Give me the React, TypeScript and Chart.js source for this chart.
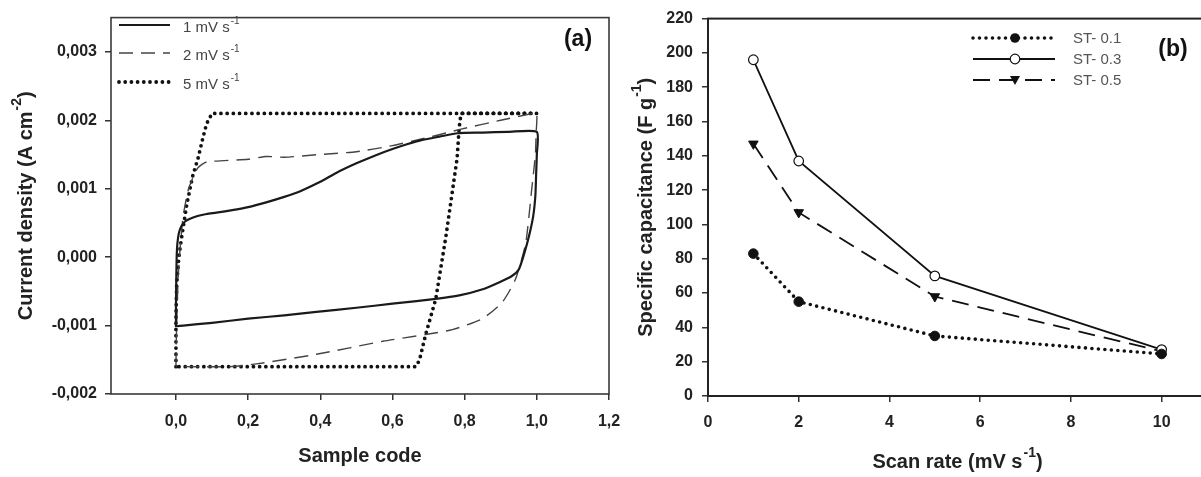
import React, { useEffect, useRef } from "react";
import { Chart, registerables } from "chart.js";

Chart.register(...registerables);

const FONT = "'Liberation Sans', Arial, Helvetica, sans-serif";

// ---------- Panel (a): cyclic voltammograms ----------
const cvXTicks = [0, 0.2, 0.4, 0.6, 0.8, 1.0, 1.2];
const cvXTickLabels = ["0,0", "0,2", "0,4", "0,6", "0,8", "1,0", "1,2"];
const cvYTicks = [-0.002, -0.001, 0, 0.001, 0.002, 0.003];
const cvYTickLabels = ["-0,002", "-0,001", "0,000", "0,001", "0,002", "0,003"];
const cvSeriesNames = ["1 mV s", "2 mV s", "5 mV s"];

// 1 mV s-1 (solid)
const cv1X = [0, 0, 0.001, 0.002, 0.004, 0.008, 0.015, 0.025, 0.039, 0.06, 0.085, 0.112, 0.16, 0.2, 0.25, 0.3, 0.343, 0.4, 0.444, 0.5, 0.554, 0.6, 0.64, 0.68, 0.73, 0.78, 0.85, 0.92, 1.0, 1.0, 0.998, 0.996, 0.99, 0.978, 0.965, 0.95, 0.93, 0.895, 0.85, 0.785, 0.72, 0.6, 0.5, 0.389, 0.3, 0.2, 0.1, 0.02, 0.002];
const cv1Y = [-0.00102, -0.0007, -0.0003, 0.0, 0.0002, 0.00035, 0.00045, 0.00052, 0.00056, 0.0006, 0.00063, 0.00065, 0.00069, 0.00073, 0.0008, 0.00088, 0.00096, 0.0011, 0.00123, 0.00137, 0.00149, 0.00158, 0.00165, 0.00171, 0.00176, 0.00181, 0.00182, 0.00183, 0.00183, 0.0015, 0.0012, 0.0009, 0.0006, 0.0003, 0.00005, -0.00018, -0.00028, -0.00037, -0.00047, -0.00056, -0.00061, -0.00068, -0.00074, -0.0008, -0.00085, -0.0009, -0.00096, -0.001, -0.00101];

// 2 mV s-1 (dashed)
const cv2X = [0, 0.001, 0.003, 0.006, 0.011, 0.02, 0.035, 0.06, 0.085, 0.2, 0.25, 0.3, 0.4, 0.5, 0.6, 0.7, 0.79, 0.9, 0.99, 1.0, 0.998, 0.996, 0.986, 0.969, 0.941, 0.904, 0.849, 0.766, 0.692, 0.573, 0.389, 0.223, 0.15, 0];
const cv2Y = [-0.0016, -0.0012, -0.0008, -0.0003, 0.0001, 0.0006, 0.001, 0.0013, 0.00139, 0.00143, 0.00147, 0.00146, 0.0015, 0.00154, 0.00163, 0.00175, 0.00187, 0.002, 0.0021, 0.0021, 0.0018, 0.0015, 0.001, 0.0002, -0.00032, -0.00066, -0.0009, -0.00106, -0.00113, -0.00123, -0.00142, -0.00156, -0.0016, -0.0016];

// 5 mV s-1 (dotted)
const cv3X = [0, 0, 0.002, 0.008, 0.016, 0.03, 0.047, 0.061, 0.075, 0.085, 0.1, 1.0, 0.79, 0.785, 0.779, 0.748, 0.72, 0.692, 0.675, 0.665, 0];
const cv3Y = [-0.0016, -0.0009, -0.0004, 0.0, 0.0003, 0.00077, 0.0012, 0.00144, 0.00175, 0.00195, 0.0021, 0.0021, 0.0021, 0.0019, 0.00144, 0.0003, -0.00061, -0.00113, -0.0015, -0.0016, -0.0016];

// ---------- Panel (b): specific capacitance ----------
const rateXTicks = [0, 2, 4, 6, 8, 10];
const rateXTickLabels = ["0", "2", "4", "6", "8", "10"];
const capYTicks = [0, 20, 40, 60, 80, 100, 120, 140, 160, 180, 200, 220];
const capYTickLabels = ["0", "20", "40", "60", "80", "100", "120", "140", "160", "180", "200", "220"];
const scanRates = [1, 2, 5, 10];
const st01 = [83, 55, 35, 24.5];
const st03 = [196, 137, 70, 27];
const st05 = [147, 107, 58, 26];
const capSeriesNames = ["ST- 0.1", "ST- 0.3", "ST- 0.5"];

const pts = (xs: number[], ys: number[]) => xs.map((x, i) => ({ x, y: ys[i] }));

type Part = { t: string; sup?: boolean };

function drawRich(
  ctx: CanvasRenderingContext2D,
  parts: Part[],
  x: number,
  y: number,
  size: number,
  weight: string,
  color: string,
  align: "left" | "center",
  rotate = false
) {
  ctx.save();
  ctx.translate(x, y);
  if (rotate) ctx.rotate(-Math.PI / 2);
  ctx.fillStyle = color;
  ctx.textBaseline = "middle";
  ctx.textAlign = "left";
  const supSize = Math.round(size * 0.68);
  const fontFor = (p: Part) => `${weight} ${p.sup ? supSize : size}px ${FONT}`;
  let total = 0;
  const widths = parts.map((p) => {
    ctx.font = fontFor(p);
    const w = ctx.measureText(p.t).width + (p.sup ? 1 : 0);
    total += w;
    return w;
  });
  let cx = align === "center" ? -total / 2 : 0;
  parts.forEach((p, i) => {
    ctx.font = fontFor(p);
    ctx.fillText(p.t, cx + (p.sup ? 1 : 0), p.sup ? -size * 0.45 : 0);
    cx += widths[i];
  });
  ctx.restore();
}

const tickFont = { family: FONT, size: 16, weight: "bold" as const };

export default function App() {
  const leftRef = useRef<HTMLCanvasElement>(null);
  const rightRef = useRef<HTMLCanvasElement>(null);

  useEffect(() => {
    const lc = leftRef.current!;
    const rc = rightRef.current!;

    const leftPlugin = {
      id: "leftDecor",
      afterDraw(chart: any) {
        const ctx: CanvasRenderingContext2D = chart.ctx;
        const a = chart.chartArea;
        ctx.save();
        ctx.strokeStyle = "#3a3a3a";
        ctx.lineWidth = 1.6;
        ctx.setLineDash([]);
        ctx.strokeRect(a.left, a.top, a.right - a.left, a.bottom - a.top);
        // legend
        const rows = [25, 53, 82];
        const styles = [
          { dash: [] as number[], w: 2.2, cap: "butt" as CanvasLineCap, c: "#1a1a1a" },
          { dash: [14, 8], w: 1.4, cap: "butt" as CanvasLineCap, c: "#444" },
          { dash: [0, 6.2], w: 3.8, cap: "round" as CanvasLineCap, c: "#111" },
        ];
        rows.forEach((ry, i) => {
          const s = styles[i];
          ctx.beginPath();
          ctx.setLineDash(s.dash);
          ctx.lineWidth = s.w;
          ctx.lineCap = s.cap;
          ctx.strokeStyle = s.c;
          ctx.moveTo(119, ry);
          ctx.lineTo(170, ry);
          ctx.stroke();
          drawRich(ctx, [{ t: cvSeriesNames[i] }, { t: "-1", sup: true }], 183, ry + 3, 15, "normal", "#444", "left");
        });
        ctx.setLineDash([]);
        // panel label
        ctx.font = `bold 23px ${FONT}`;
        ctx.fillStyle = "#111";
        ctx.textAlign = "center";
        ctx.textBaseline = "middle";
        ctx.fillText("(a)", 578, 40);
        // axis titles
        drawRich(ctx, [{ t: "Current density (A cm" }, { t: "-2", sup: true }, { t: ")" }], 26, (a.top + a.bottom) / 2, 20, "bold", "#222", "center", true);
        drawRich(ctx, [{ t: "Sample code" }], (a.left + a.right) / 2, 456, 20, "bold", "#222", "center");
        ctx.restore();
      },
    };

    const rightPlugin = {
      id: "rightDecor",
      afterDraw(chart: any) {
        const ctx: CanvasRenderingContext2D = chart.ctx;
        const a = chart.chartArea;
        ctx.save();
        ctx.strokeStyle = "#222";
        ctx.lineWidth = 2;
        ctx.setLineDash([]);
        ctx.strokeRect(a.left, a.top, a.right - a.left, a.bottom - a.top);
        // legend (canvas offset 620)
        const ox = 620;
        const rows = [38, 59, 80];
        const x0 = 973 - ox;
        const x1 = 1055 - ox;
        const mx = 1015 - ox;
        rows.forEach((ry, i) => {
          ctx.beginPath();
          if (i === 0) {
            ctx.setLineDash([0, 6.5]);
            ctx.lineWidth = 3.6;
            ctx.lineCap = "round";
          } else if (i === 1) {
            ctx.setLineDash([]);
            ctx.lineWidth = 1.8;
            ctx.lineCap = "butt";
          } else {
            ctx.setLineDash([17, 9]);
            ctx.lineWidth = 1.8;
            ctx.lineCap = "butt";
          }
          ctx.strokeStyle = "#111";
          ctx.moveTo(x0, ry);
          ctx.lineTo(x1, ry);
          ctx.stroke();
          ctx.setLineDash([]);
          ctx.lineWidth = 1.2;
          ctx.beginPath();
          if (i === 0) {
            ctx.fillStyle = "#111";
            ctx.arc(mx, ry, 4.8, 0, Math.PI * 2);
            ctx.fill();
          } else if (i === 1) {
            ctx.fillStyle = "#fff";
            ctx.arc(mx, ry, 4.8, 0, Math.PI * 2);
            ctx.fill();
            ctx.stroke();
          } else {
            ctx.fillStyle = "#111";
            ctx.moveTo(mx - 5, ry - 4);
            ctx.lineTo(mx + 5, ry - 4);
            ctx.lineTo(mx, ry + 5);
            ctx.closePath();
            ctx.fill();
          }
          ctx.font = `normal 15px ${FONT}`;
          ctx.fillStyle = "#555";
          ctx.textAlign = "left";
          ctx.textBaseline = "middle";
          ctx.fillText(capSeriesNames[i], 1073 - ox, ry + 1);
        });
        ctx.font = `bold 23px ${FONT}`;
        ctx.fillStyle = "#111";
        ctx.textAlign = "center";
        ctx.textBaseline = "middle";
        ctx.fillText("(b)", 1173 - ox, 50);
        drawRich(ctx, [{ t: "Specific capacitance (F g" }, { t: "-1", sup: true }, { t: ")" }], 646 - ox, (a.top + a.bottom) / 2, 20, "bold", "#222", "center", true);
        drawRich(ctx, [{ t: "Scan rate (mV s" }, { t: "-1", sup: true }, { t: ")" }], (a.left + a.right) / 2, 462, 20, "bold", "#222", "center");
        ctx.restore();
      },
    };

    const gridOpts = (tl: number) => ({
      display: true,
      drawOnChartArea: false,
      drawTicks: true,
      tickLength: tl,
      color: "#333",
      lineWidth: 1.5,
    });

    const left = new Chart(lc, {
      type: "scatter",
      data: {
        datasets: [
          {
            label: "1 mV s-1",
            data: pts(cv1X, cv1Y),
            showLine: true,
            borderColor: "#1a1a1a",
            borderWidth: 2.2,
            pointRadius: 0,
            tension: 0.2,
          },
          {
            label: "2 mV s-1",
            data: pts(cv2X, cv2Y),
            showLine: true,
            borderColor: "#444",
            borderWidth: 1.4,
            borderDash: [14, 8],
            pointRadius: 0,
            tension: 0.2,
          },
          {
            label: "5 mV s-1",
            data: pts(cv3X, cv3Y),
            showLine: true,
            borderColor: "#111",
            borderWidth: 3.8,
            borderDash: [0, 6.2],
            borderCapStyle: "round",
            pointRadius: 0,
            tension: 0,
          },
        ],
      },
      options: {
        responsive: false,
        animation: false,
        devicePixelRatio: 1,
        layout: { padding: { left: 0, top: 10, right: 31, bottom: 0 } },
        plugins: { legend: { display: false }, tooltip: { enabled: false } },
        scales: {
          x: {
            type: "linear",
            min: -0.18,
            max: 1.2,
            grid: gridOpts(6),
            border: { display: false },
            afterBuildTicks: (s: any) => {
              s.ticks = cvXTicks.map((v) => ({ value: v }));
            },
            afterFit: (s: any) => {
              s.height = 83;
            },
            ticks: {
              font: tickFont,
              color: "#222",
              padding: 12,
              maxRotation: 0,
              callback: (_v: any, i: number) => cvXTickLabels[i],
            },
          },
          y: {
            type: "linear",
            min: -0.002,
            max: 0.0035,
            grid: gridOpts(6),
            border: { display: false },
            afterBuildTicks: (s: any) => {
              s.ticks = cvYTicks.map((v) => ({ value: v }));
            },
            afterFit: (s: any) => {
              s.width = 111;
            },
            ticks: {
              font: tickFont,
              color: "#222",
              padding: 8,
              callback: (_v: any, i: number) => cvYTickLabels[i],
            },
          },
        },
      } as any,
      plugins: [leftPlugin],
    });

    const right = new Chart(rc, {
      type: "scatter",
      data: {
        datasets: [
          {
            label: capSeriesNames[0],
            data: pts(scanRates, st01),
            showLine: true,
            borderColor: "#111",
            borderWidth: 3.6,
            borderDash: [0, 6.5],
            borderCapStyle: "round",
            pointRadius: 4.8,
            pointStyle: "circle",
            pointBackgroundColor: "#111",
            pointBorderColor: "#111",
            pointBorderWidth: 1,
          },
          {
            label: capSeriesNames[1],
            data: pts(scanRates, st03),
            showLine: true,
            borderColor: "#111",
            borderWidth: 1.8,
            pointRadius: 4.8,
            pointStyle: "circle",
            pointBackgroundColor: "#fff",
            pointBorderColor: "#111",
            pointBorderWidth: 1.2,
          },
          {
            label: capSeriesNames[2],
            data: pts(scanRates, st05),
            showLine: true,
            borderColor: "#111",
            borderWidth: 1.8,
            borderDash: [17, 9],
            pointRadius: 5.5,
            pointStyle: "triangle",
            rotation: 180,
            pointBackgroundColor: "#111",
            pointBorderColor: "#111",
            pointBorderWidth: 1,
          },
        ],
      },
      options: {
        responsive: false,
        animation: false,
        devicePixelRatio: 1,
        layout: { padding: { left: 0, top: 17, right: 8, bottom: 0 } },
        plugins: { legend: { display: false }, tooltip: { enabled: false } },
        scales: {
          x: {
            type: "linear",
            min: 0,
            max: 11,
            grid: gridOpts(6),
            border: { display: false },
            afterBuildTicks: (s: any) => {
              s.ticks = rateXTicks.map((v) => ({ value: v }));
            },
            afterFit: (s: any) => {
              s.height = 81;
            },
            ticks: {
              font: tickFont,
              color: "#222",
              padding: 11,
              maxRotation: 0,
              callback: (_v: any, i: number) => rateXTickLabels[i],
            },
          },
          y: {
            type: "linear",
            min: 0,
            max: 220,
            grid: gridOpts(6),
            border: { display: false },
            afterBuildTicks: (s: any) => {
              s.ticks = capYTicks.map((v) => ({ value: v }));
            },
            afterFit: (s: any) => {
              s.width = 88;
            },
            ticks: {
              font: tickFont,
              color: "#222",
              padding: 9,
              callback: (_v: any, i: number) => capYTickLabels[i],
            },
          },
        },
      } as any,
      plugins: [rightPlugin],
    });

    return () => {
      left.destroy();
      right.destroy();
    };
  }, []);

  return (
    <div
      style={{
        position: "fixed",
        left: 0,
        top: 0,
        width: 1201,
        height: 477,
        overflow: "hidden",
        background: "#fff",
      }}
    >
      <canvas
        ref={leftRef}
        width={640}
        height={477}
        style={{ position: "absolute", left: 0, top: 0, width: 640, height: 477 }}
      />
      <canvas
        ref={rightRef}
        width={595}
        height={477}
        style={{ position: "absolute", left: 620, top: 0, width: 595, height: 477 }}
      />
    </div>
  );
}
